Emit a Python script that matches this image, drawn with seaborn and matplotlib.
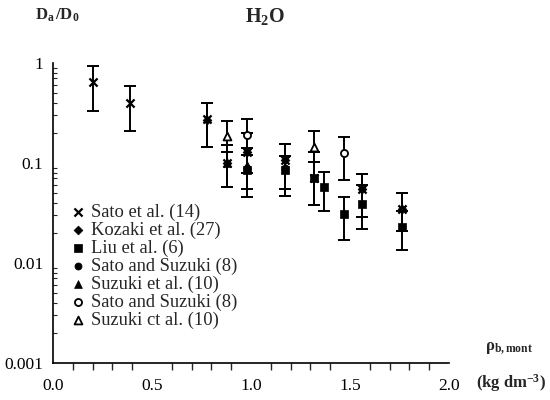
import numpy as np
import pandas as pd
import matplotlib
matplotlib.use("Agg")
import matplotlib.pyplot as plt
import seaborn as sns
from matplotlib.ticker import FixedLocator, NullFormatter, LogLocator

# ---- data ----
sato14_x = [0.20, 0.39, 0.78, 0.88, 0.98, 1.17, 1.32, 1.56, 1.76]
sato14_y = [0.64, 0.40, 0.275, 0.10, 0.13, 0.107, 0.071, 0.055, 0.035]
sato14_lo = [0.33, 0.21, 0.146, 0.057, 0.08, 0.055, 0.038, 0.029, 0.021]
sato14_hi = [0.94, 0.59, 0.40, 0.15, 0.20, 0.154, 0.13, 0.078, 0.050]

kozaki_x = [0.78, 0.88, 0.98, 1.17, 1.56, 1.76]
kozaki_y = [0.27, 0.10, 0.13, 0.107, 0.055, 0.035]
kozaki_lo = [0.146, 0.057, 0.08, 0.055, 0.029, 0.021]
kozaki_hi = [0.40, 0.15, 0.20, 0.154, 0.078, 0.050]

liu_x = [0.98, 1.17, 1.32, 1.37, 1.47, 1.56, 1.76]
liu_y = [0.085, 0.085, 0.071, 0.057, 0.031, 0.039, 0.023]
liu_lo = [0.046, 0.047, 0.038, 0.033, 0.017, 0.022, 0.0134]
liu_hi = [0.14, 0.118, 0.13, 0.082, 0.046, 0.060, 0.033]

satosuz_x = [0.98, 1.17]
satosuz_y = [0.09, 0.09]
satosuz_lo = [0.055, 0.047]
satosuz_hi = [0.12, 0.118]

suzuki_x = [0.88, 0.98]
suzuki_y = [0.10, 0.095]
suzuki_lo = [0.057, 0.055]
suzuki_hi = [0.15, 0.12]

satosuz_open_x = [0.98, 1.47]
satosuz_open_y = [0.19, 0.127]
satosuz_open_lo = [0.12, 0.068]
satosuz_open_hi = [0.275, 0.18]

suzuki_open_x = [0.88, 1.32]
suzuki_open_y = [0.186, 0.146]
suzuki_open_lo = [0.13, 0.102]
suzuki_open_hi = [0.265, 0.21]

series = [
    ("Sato et al. (14)", sato14_x, sato14_y, sato14_lo, sato14_hi, "x", True),
    ("Kozaki et al. (27)", kozaki_x, kozaki_y, kozaki_lo, kozaki_hi, "D", True),
    ("Liu et al. (6)", liu_x, liu_y, liu_lo, liu_hi, "s", True),
    ("Sato and Suzuki (8)", satosuz_x, satosuz_y, satosuz_lo, satosuz_hi, "o", True),
    ("Suzuki et al. (10)", suzuki_x, suzuki_y, suzuki_lo, suzuki_hi, "^", True),
    ("Sato and Suzuki (8) ", satosuz_open_x, satosuz_open_y, satosuz_open_lo, satosuz_open_hi, "o", False),
    ("Suzuki ct al. (10)", suzuki_open_x, suzuki_open_y, suzuki_open_lo, suzuki_open_hi, "^", False),
]

sns.set_style("white")
plt.rcParams["font.family"] = ["Liberation Serif", "DejaVu Serif"]
plt.rcParams["mathtext.fontset"] = "custom"
plt.rcParams["mathtext.rm"] = "Liberation Serif"
plt.rcParams["mathtext.bf"] = "Liberation Serif:bold"
plt.rcParams["mathtext.it"] = "Liberation Serif:italic"

fig = plt.figure(figsize=(5.5, 4), dpi=100)
ax = fig.add_axes([0.0964, 0.0925, 0.720, 0.75])

for label, xs, ys, lo, hi, mk, filled in series:
    ys_a = np.array(ys)
    yerr = np.vstack([ys_a - np.array(lo), np.array(hi) - ys_a])
    ax.errorbar(xs, ys, yerr=yerr, fmt="none", ecolor="black", elinewidth=1.4,
                capsize=4, capthick=1.4, zorder=2)

for label, xs, ys, lo, hi, mk, filled in series:
    df = pd.DataFrame({"x": xs, "y": ys})
    size = {"x": 34, "D": 20, "s": 30, "o": 26, "^": 32}[mk]
    if filled:
        sns.scatterplot(data=df, x="x", y="y", marker=mk, s=size, color="black",
                        edgecolor="black", linewidth=1.6 if mk == "x" else 0.5,
                        label=label, ax=ax, zorder=3)
    else:
        sns.scatterplot(data=df, x="x", y="y", marker=mk, s=size, facecolor="white",
                        edgecolor="black", linewidth=1.3, label=label, ax=ax, zorder=3)

ax.set_yscale("log")
ax.set_xlim(0, 2.0)
ax.set_ylim(0.001, 1)
ax.set_xticks([0.0, 0.5, 1.0, 1.5, 2.0])
ax.set_xticklabels(["0.0", "0.5", "1.0", "1.5", "2.0"])
ax.xaxis.set_minor_locator(FixedLocator(np.arange(0, 2.01, 0.1)))
ax.set_yticks([0.001, 0.01, 0.1, 1])
ax.set_yticklabels(["0.001", "0.01", "0.1", "1"])
ax.yaxis.set_minor_locator(LogLocator(base=10, subs=np.arange(2, 10)))
ax.yaxis.set_minor_formatter(NullFormatter())
ax.tick_params(axis="both", which="major", labelsize=12.5, colors="black", length=5, width=1,
               direction="out")
ax.tick_params(axis="x", which="minor", length=5, width=1, direction="out", bottom=True)
ax.tick_params(axis="y", which="minor", length=3, width=0.8, direction="in", left=True)
ax.tick_params(axis="x", pad=6)
ax.tick_params(axis="y", which="major", pad=2)
ax.set_xlabel("")
ax.set_ylabel("")

for s in ["top", "right"]:
    ax.spines[s].set_visible(False)
for s in ["left", "bottom"]:
    ax.spines[s].set_color("black")
    ax.spines[s].set_linewidth(1.2)

leg = ax.legend(loc="upper left", bbox_to_anchor=(0.048, 0.532), frameon=False,
                fontsize=13.3, handlelength=0.6, handletextpad=0.45,
                labelspacing=0.04, borderaxespad=0, borderpad=0)

fig.text(0.064, 0.962, r"$\mathbf{D_a\,/D_0}$", fontsize=12, ha="left", va="center")
fig.text(0.482, 0.958, r"$\mathbf{H_2O}$", fontsize=14.5, ha="center", va="center")
fig.text(0.925, 0.130, r"$\mathbf{\rho_{b,mont}}$", fontsize=12, ha="center", va="center")
fig.text(0.929, 0.043, r"$\mathbf{(kg\ dm^{-3})}$", fontsize=12, ha="center", va="center")

fig.savefig("out.png", dpi=100)
